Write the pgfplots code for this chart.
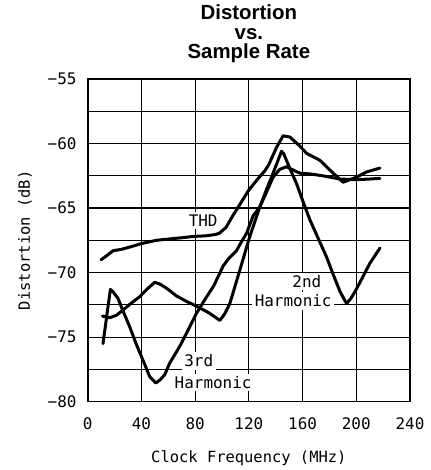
\documentclass[border=0pt]{standalone}
\usepackage{fontspec}
\setmainfont{Liberation Sans}
\newfontfamily\monofont{DejaVu Sans Mono}
\usepackage{pgfplots}
\pgfplotsset{compat=1.18}

\pgfplotstableread{
x y
10 -69.0
14 -68.7
19 -68.3
25 -68.2
32 -68.0
40 -67.75
51 -67.5
60 -67.4
70 -67.3
78.5 -67.2
88 -67.15
95 -67.05
98 -66.95
103 -66.5
108 -65.6
114 -64.6
120 -63.6
127 -62.7
132 -62.1
135 -61.6
140.6 -60.3
145.5 -59.4
150.6 -59.5
158 -60.2
163 -60.76
172.9 -61.3
182.8 -62.3
190.2 -63.0
200.2 -62.6
207.7 -62.2
217.6 -61.9
}\thd

\pgfplotstableread{
x y
10.9 -73.36
16.4 -73.5
21.4 -73.3
26.3 -72.9
32 -72.4
38.8 -71.86
44 -71.3
49.9 -70.75
54 -70.9
58.6 -71.2
66 -71.8
73 -72.2
81 -72.6
90 -73.1
98.4 -73.7
102 -73.2
105.8 -72.4
109 -71.3
113.3 -69.8
120.7 -67.2
128.2 -64.9
133 -63.6
136.9 -62.6
141 -61.5
144.3 -60.6
146 -60.8
150 -61.8
155.5 -63.1
160 -64.4
165.4 -65.9
171 -67.2
177.9 -68.8
183 -70.2
188 -71.5
192.8 -72.4
196 -72.0
200 -71.3
205 -70.3
210 -69.3
217.6 -68.1
}\second

\pgfplotstableread{
x y
11.4 -75.5
14 -73.5
16.9 -71.3
19 -71.5
22.6 -72.0
26 -72.9
31.3 -74.2
36 -75.5
41.2 -76.8
46.2 -78.06
50.7 -78.55
54 -78.3
57.4 -77.9
61.1 -77.0
64 -76.5
68.6 -75.7
75 -74.4
81 -73.15
88.4 -71.9
94 -71.0
100.8 -69.5
105 -68.9
110.8 -68.3
114 -67.7
118.3 -66.95
123.2 -65.6
128.2 -64.9
133 -63.8
138.1 -62.6
143 -62.0
148 -61.8
152 -62.0
158 -62.3
165.4 -62.35
175 -62.5
187.8 -62.75
200 -62.8
210 -62.75
217.6 -62.7
}\third

\begin{document}
\begin{tikzpicture}[x=1bp,y=1bp]
\path[use as bounding box] (0,0) rectangle (430,470);
\begin{axis}[
  at={(87.7bp,68.3bp)}, anchor=south west,
  scale only axis, width=322.3bp, height=322.7bp,
  xmin=0, xmax=240, ymin=-80, ymax=-55,
  xtick={0,40,...,240}, ytick={-80,-75,...,-55},
  yticklabels={−80,−75,−70,−65,−60,−55},
  minor ytick={-77.5,-72.5,...,-57.5},
  grid=both,
  major grid style={black, line width=1.2bp},
  minor grid style={black, line width=1.2bp},
  major tick length=0pt, minor tick length=0pt,
  axis line style={line width=1.6bp},
  /pgf/number format/assume math mode=true,
  ticklabel style={font=\monofont\fontsize{16}{16}\selectfont, inner sep=0pt},
  xticklabel style={anchor=center, yshift=-21.6bp},
  yticklabel style={anchor=east, xshift=-11bp},
  xlabel={Clock Frequency (MHz)},
  ylabel={Distortion (dB)},
  label style={font=\monofont\fontsize{15.5}{15.5}\selectfont, inner sep=0pt},
  xlabel style={at={(axis description cs:0.5,-0.1754)}, anchor=center},
  ylabel style={at={(axis description cs:-0.1945,0.5)}, anchor=center, rotate=0},
  title={Distortion\\vs.\\Sample Rate},
  title style={at={(axis description cs:0.5,1)}, anchor=south, yshift=9.7bp, inner sep=0pt,
    align=center, font=\bfseries\fontsize{20.5}{19.7}\selectfont},
]
\addplot[black, mark=none, line width=3bp, line join=round, line cap=round] table[x=x,y=y] {\thd};
\addplot[black, mark=none, line width=3bp, line join=round, line cap=round] table[x=x,y=y] {\second};
\addplot[black, mark=none, line width=3bp, line join=round, line cap=round] table[x=x,y=y] {\third};
\begin{scope}[every node/.style={font=\monofont\fontsize{16}{16}\selectfont, fill=white, inner sep=2.5bp}]
\node at (axis cs:86,-65.97) {THD};
\node at (axis cs:163.2,-70.7) {2nd};
\node at (axis cs:153,-72.2) {Harmonic};
\node at (axis cs:82.7,-76.84) {3rd};
\node at (axis cs:93.4,-78.5) {Harmonic};
\end{scope}
\end{axis}
\end{tikzpicture}
\end{document}
